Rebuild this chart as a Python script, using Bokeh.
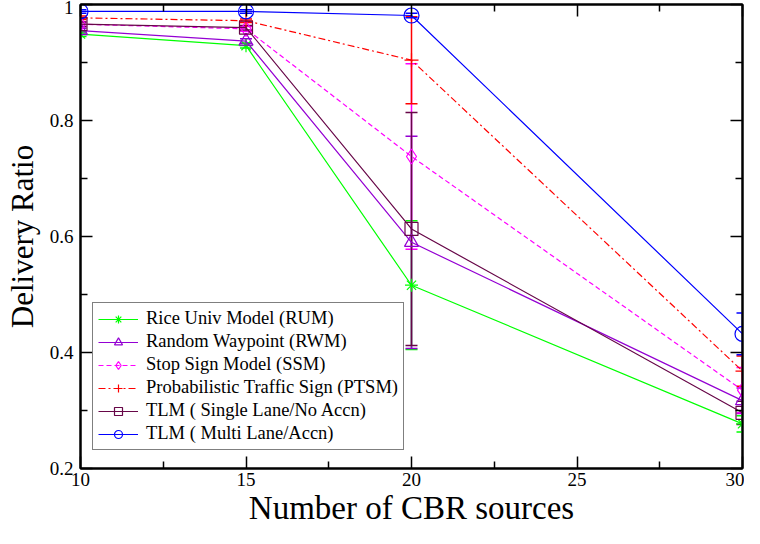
from bokeh.plotting import figure
from bokeh.models import (ColumnDataSource, Whisker, TeeHead, Legend, LegendItem,
                          LinearAxis, FixedTicker, Range1d, CustomJSTickFormatter)
from bokeh.embed import file_html
from bokeh.resources import INLINE

# ---- data ----
cbr_sources = [10, 15, 20, 30]

rum = [0.949, 0.929, 0.516, 0.277]
rwm = [0.955, 0.937, 0.590, 0.317]
ssm = [0.966, 0.958, 0.738, 0.335]
ptsm = [0.977, 0.972, 0.904, 0.368]
tlm_single = [0.966, 0.960, 0.613, 0.296]
tlm_multi = [0.988, 0.988, 0.981, 0.432]

rum_err = [0.004, 0.004, 0.111, 0.014]
rwm_err = [0.004, 0.004, 0.183, 0.022]
ssm_err = [0.004, 0.004, 0.160, 0.039]
ptsm_err = [0.003, 0.003, 0.075, 0.026]
tlm_single_err = [0.004, 0.004, 0.201, 0.020]
tlm_multi_err = [0.003, 0.003, 0.004, 0.036]

labels = ["Rice Univ Model (RUM)", "Random Waypoint (RWM)", "Stop Sign Model (SSM)",
          "Probabilistic Traffic Sign (PTSM)", "TLM ( Single Lane/No Accn)",
          "TLM ( Multi Lane/Accn)"]

x_ticks = [10, 15, 20, 25, 30]
x_minor = [12.5, 17.5, 22.5, 27.5]
y_ticks = [0.2, 0.4, 0.6, 0.8, 1.0]
y_minor = [0.3, 0.5, 0.7, 0.9]

series = [rum, rwm, ssm, ptsm, tlm_single, tlm_multi]
errors = [rum_err, rwm_err, ssm_err, ptsm_err, tlm_single_err, tlm_multi_err]

# ---- styles ----
colors = ["#00ff00", "#9400d3", "#ff00ff", "#ff0000", "#670748", "#0000ff"]
markers = ["asterisk", "triangle", "diamond", "cross", "square", "circle"]
marker_sizes = [13, 14, 15, 14, 13, 15]
dashes = ["solid", "solid", "5 3", "7 3 2 3", "solid", "solid"]

SERIF = "Liberation Serif"

p = figure(width=744, height=528, output_backend="svg",
           toolbar_location=None,
           x_range=Range1d(10, 30), y_range=Range1d(0.2, 1.0),
           min_border_left=80, min_border_right=2, min_border_top=4,
           min_border_bottom=60)
p.background_fill_color = "white"
p.border_fill_color = "white"
p.outline_line_color = "black"
p.outline_line_width = 2
p.xgrid.visible = False
p.ygrid.visible = False

def style_axis(ax, show_labels):
    ax.axis_line_color = "black"
    ax.axis_line_width = 2
    ax.major_tick_in = 12
    ax.major_tick_out = 0
    ax.minor_tick_in = 7
    ax.minor_tick_out = 0
    ax.major_tick_line_width = 1.5
    ax.minor_tick_line_width = 1.5
    ax.major_tick_line_color = "black"
    ax.minor_tick_line_color = "black"
    if show_labels:
        ax.major_label_text_font = SERIF
        ax.major_label_text_font_size = "19px"
        ax.major_label_text_color = "black"
        ax.axis_label_text_font = SERIF
        ax.axis_label_text_font_style = "normal"
        ax.axis_label_text_color = "black"
    else:
        ax.formatter = CustomJSTickFormatter(code="return ''")
        ax.major_label_text_font_size = "1px"
        ax.major_label_standoff = 0

x_ticker = FixedTicker(ticks=x_ticks, minor_ticks=x_minor)
y_ticker = FixedTicker(ticks=y_ticks, minor_ticks=y_minor)

xa = p.xaxis[0]
xa.ticker = x_ticker
xa.axis_label = "Number of CBR sources"
style_axis(xa, True)
xa.axis_label_text_font_size = "33px"
xa.major_label_standoff = 4
xa.axis_label_standoff = 1

ya = p.yaxis[0]
ya.ticker = y_ticker
ya.axis_label = "Delivery Ratio"
style_axis(ya, True)
ya.axis_label_text_font_size = "31px"
ya.major_label_standoff = 7
ya.axis_label_standoff = 7
ya.major_label_overrides = {1: "1"}

top = LinearAxis(ticker=x_ticker)
style_axis(top, False)
p.add_layout(top, "above")
right = LinearAxis(ticker=y_ticker)
style_axis(right, False)
p.add_layout(right, "right")

items = []
for vals, errs, col, mk, ms, dash, lab in zip(series, errors, colors, markers,
                                                marker_sizes, dashes, labels):
    src = ColumnDataSource(dict(
        x=cbr_sources, y=vals,
        lo=[v - e for v, e in zip(vals, errs)],
        hi=[v + e for v, e in zip(vals, errs)]))
    w = Whisker(source=src, base="x", lower="lo", upper="hi", dimension="height",
                line_color=col, line_width=1.5,
                upper_head=TeeHead(size=12, line_color=col, line_width=1.5),
                lower_head=TeeHead(size=12, line_color=col, line_width=1.5))
    p.add_layout(w)
    lr = p.line("x", "y", source=src, line_color=col, line_width=1.2, line_dash=dash)
    sr = p.scatter("x", "y", source=src, marker=mk, size=ms, line_color=col,
                   fill_color=None, line_width=1.2)
    items.append(LegendItem(label=lab, renderers=[lr, sr]))

legend = Legend(items=items, location=(12, 18), margin=0)
legend.label_text_font = SERIF
legend.label_text_font_size = "18.5px"
legend.label_text_color = "black"
legend.label_height = 20
legend.glyph_height = 20
legend.glyph_width = 40
legend.label_standoff = 8
legend.spacing = 2
legend.padding = 5
legend.border_line_color = "black"
legend.border_line_width = 1.2
legend.background_fill_alpha = 1
p.add_layout(legend, "center")

open("out.html", "w").write(file_html(p, INLINE))
